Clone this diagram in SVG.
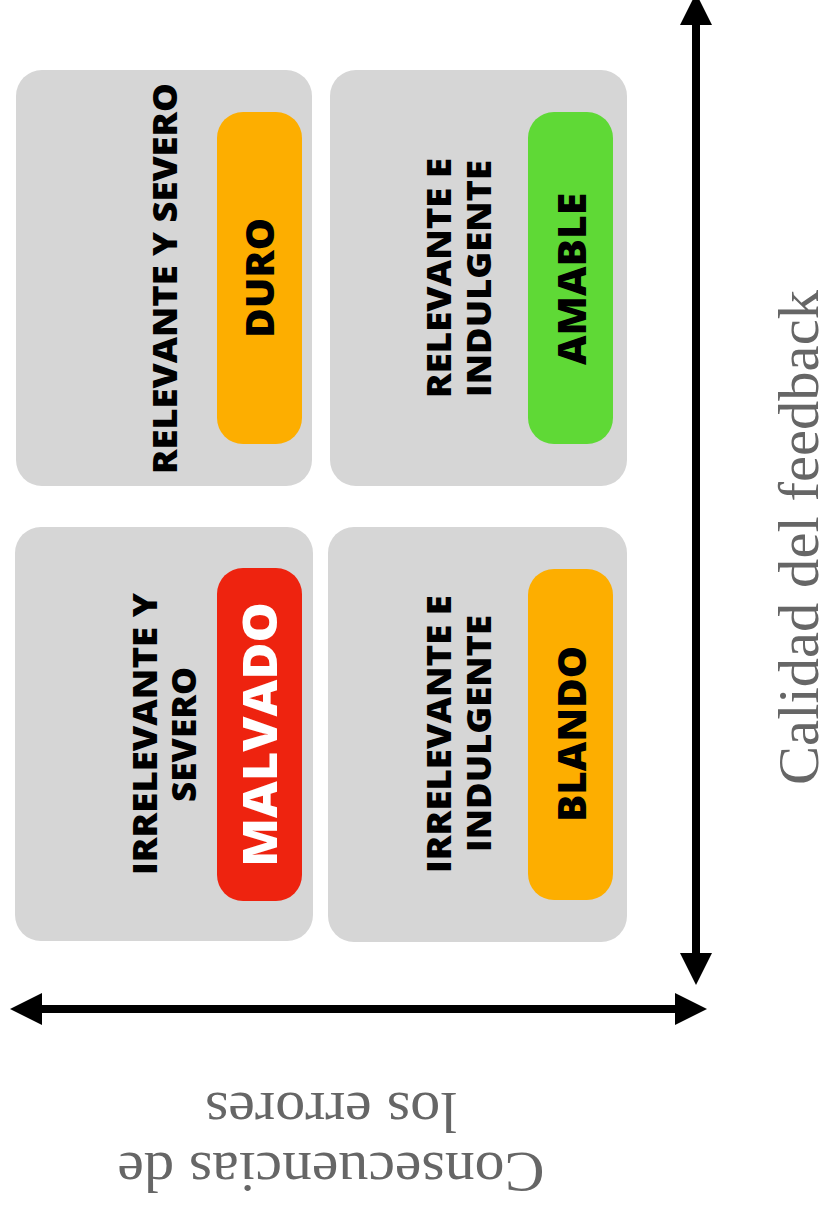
<svg xmlns="http://www.w3.org/2000/svg" width="822" height="1209" viewBox="0 0 822 1209">
  <style>
    .card { fill: #d6d6d6; }
    .pill-orange { fill: #fdae00; }
    .pill-green { fill: #5fd936; }
    .pill-red { fill: #ee230f; }
    .lbl { font-family: "Open Sans", "Liberation Sans", sans-serif; font-weight: 800; font-size: 33px; fill: #000; text-anchor: middle; }
    .tag { font-family: "Open Sans", "Liberation Sans", sans-serif; font-weight: 800; font-size: 38px; fill: #000; text-anchor: middle; }
    .tag-white { fill: #fff; font-size: 48px; }
    .axis-label { font-family: "Liberation Serif", "DejaVu Serif", serif; font-size: 58px; fill: #666; text-anchor: middle; }
    .axis { stroke: #000; stroke-width: 8; fill: none; }
  </style>
  <defs>
    <marker id="head" markerUnits="userSpaceOnUse" markerWidth="32" markerHeight="32" viewBox="0 0 32 32" refX="0" refY="16" orient="auto-start-reverse">
      <path d="M0,0 L32,16 L0,32 Z" fill="#000"/>
    </marker>
  </defs>

  <g id="node-duro">
    <rect class="card" x="16" y="70" width="296" height="416" rx="26"/>
    <rect class="pill-orange" x="217" y="112" width="85" height="332" rx="26"/>
    <text class="lbl" transform="translate(177,278.5) rotate(-90)" textLength="391" lengthAdjust="spacingAndGlyphs">RELEVANTE Y SEVERO</text>
    <text class="tag" transform="translate(274,278) rotate(-90)" textLength="120" lengthAdjust="spacingAndGlyphs">DURO</text>
  </g>

  <g id="node-amable">
    <rect class="card" x="330" y="70" width="297" height="416" rx="26"/>
    <rect class="pill-green" x="528" y="112" width="85" height="332" rx="26"/>
    <text class="lbl" transform="translate(451,278) rotate(-90)" textLength="240" lengthAdjust="spacingAndGlyphs">RELEVANTE E</text>
    <text class="lbl" transform="translate(491,278.5) rotate(-90)" textLength="237" lengthAdjust="spacingAndGlyphs">INDULGENTE</text>
    <text class="tag" transform="translate(586,279) rotate(-90)" textLength="172" lengthAdjust="spacingAndGlyphs">AMABLE</text>
  </g>

  <g id="node-malvado">
    <rect class="card" x="15" y="527" width="298" height="414" rx="26"/>
    <rect class="pill-red" x="217" y="568" width="85" height="333" rx="26"/>
    <text class="lbl" transform="translate(157,734) rotate(-90)" textLength="282" lengthAdjust="spacingAndGlyphs">IRRELEVANTE Y</text>
    <text class="lbl" transform="translate(196,734.5) rotate(-90)" textLength="135" lengthAdjust="spacingAndGlyphs">SEVERO</text>
    <text class="tag tag-white" transform="translate(277,734.5) rotate(-90)" textLength="265" lengthAdjust="spacingAndGlyphs">MALVADO</text>
  </g>

  <g id="node-blando">
    <rect class="card" x="328" y="527" width="299" height="415" rx="26"/>
    <rect class="pill-orange" x="528" y="569" width="85" height="331" rx="26"/>
    <text class="lbl" transform="translate(451,734) rotate(-90)" textLength="278" lengthAdjust="spacingAndGlyphs">IRRELEVANTE E</text>
    <text class="lbl" transform="translate(491,733.5) rotate(-90)" textLength="237" lengthAdjust="spacingAndGlyphs">INDULGENTE</text>
    <text class="tag" transform="translate(586,734) rotate(-90)" textLength="176" lengthAdjust="spacingAndGlyphs">BLANDO</text>
  </g>

  <g id="connectors">
    <line class="axis" x1="696" y1="953" x2="696" y2="25" marker-start="url(#head)" marker-end="url(#head)"/>
    <line class="axis" x1="675" y1="1009" x2="42" y2="1009" marker-start="url(#head)" marker-end="url(#head)"/>
  </g>

  <g id="axis-labels">
    <text class="axis-label" transform="translate(818,537.5) rotate(-90)" textLength="495" lengthAdjust="spacingAndGlyphs">Calidad del feedback</text>
    <g transform="translate(331,1153) rotate(180)">
      <text class="axis-label" x="0" y="0" textLength="427" lengthAdjust="spacingAndGlyphs">Consecuencias de</text>
      <text class="axis-label" x="0" y="60" textLength="252" lengthAdjust="spacingAndGlyphs">los errores</text>
    </g>
  </g>
</svg>
